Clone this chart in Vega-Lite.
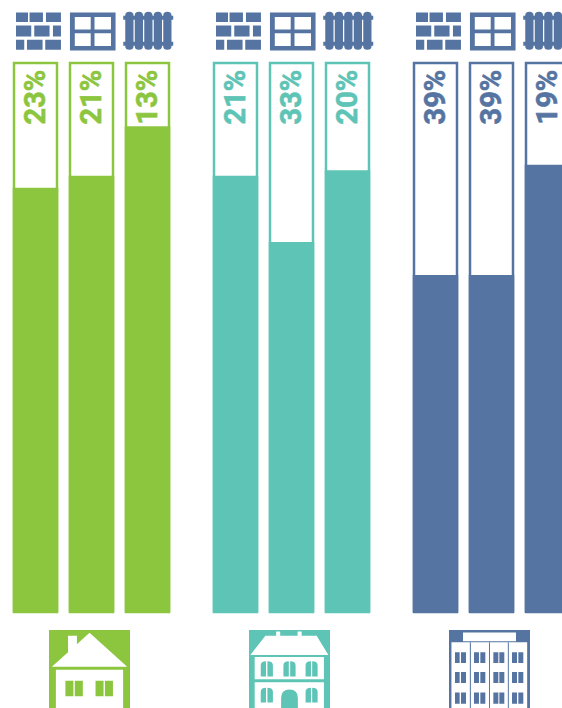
{
"$schema":"https://vega.github.io/schema/vega-lite/v6.json",
"background":"white",
"padding":{"left":7.5,"top":0,"right":0,"bottom":0},
"data":{"values":[
{"group":"maison","indicator":"murs","label":"23%","filled":77.3},
{"group":"maison","indicator":"fenêtres","label":"21%","filled":79.5},
{"group":"maison","indicator":"chauffage","label":"13%","filled":88.5},
{"group":"immeuble ancien","indicator":"murs","label":"21%","filled":79.5},
{"group":"immeuble ancien","indicator":"fenêtres","label":"33%","filled":67.4},
{"group":"immeuble ancien","indicator":"chauffage","label":"20%","filled":80.5},
{"group":"immeuble récent","indicator":"murs","label":"39%","filled":61.4},
{"group":"immeuble récent","indicator":"fenêtres","label":"39%","filled":61.4},
{"group":"immeuble récent","indicator":"chauffage","label":"19%","filled":81.5}
]},
"facet":{"column":{"field":"group","type":"nominal","sort":["maison","immeuble ancien","immeuble récent"],"header":null}},
"spacing":32,
"config":{"view":{"stroke":null}},
"spec":{
"width":168,"height":708,
"encoding":{
"x":{"field":"indicator","type":"nominal","sort":["murs","fenêtres","chauffage"],"axis":null,"scale":{"type":"band","paddingInner":0,"paddingOuter":0}},
"color":{"field":"group","type":"nominal","legend":null,"scale":{"domain":["maison","immeuble ancien","immeuble récent"],"range":["#8CC63F","#5EC4B6","#5574A2"]}}
},
"layer":[
{"mark":{"type":"bar","width":43,"fill":"white","strokeWidth":2.5},
 "encoding":{"y":{"datum":100,"type":"quantitative","axis":null,"scale":{"domain":[-17.5,111.5],"nice":false,"zero":false}},"y2":{"datum":0},"stroke":{"field":"group","type":"nominal","legend":null,"scale":{"domain":["maison","immeuble ancien","immeuble récent"],"range":["#8CC63F","#5EC4B6","#5574A2"]}},"color":{"value":null}}},
{"mark":{"type":"bar","width":45.5},
 "encoding":{"y":{"field":"filled","type":"quantitative"},"y2":{"datum":0}}},
{"mark":{"type":"text","angle":270,"align":"right","baseline":"middle","font":"Roboto","fontWeight":"bold","fontSize":29,"strokeWidth":0.6},
 "encoding":{"y":{"datum":98.8,"type":"quantitative"},"text":{"field":"label"},"stroke":{"field":"group","type":"nominal","legend":null,"scale":{"domain":["maison","immeuble ancien","immeuble récent"],"range":["#8CC63F","#5EC4B6","#5574A2"]}}}},
{"mark":{"type":"point","filled":true,"size":2500,"opacity":1,"fill":"#5574A2"},
 "encoding":{"y":{"datum":105.9,"type":"quantitative"},"color":{"value":"#5574A2"},
  "shape":{"field":"indicator","type":"nominal","legend":null,"scale":{"domain":["murs","fenêtres","chauffage"],"range":[
  "M-0.78 -0.732H-0.3V-0.348H-0.78ZM-0.238 -0.732H0.298V-0.348H-0.238ZM0.418 -0.732H1.018V-0.348H0.418ZM-0.78 -0.212H-0.17V0.228H-0.78ZM-0.05 -0.212H0.562V0.228H-0.05ZM0.698 -0.212H1.018V0.228H0.698ZM-0.78 0.36H-0.45V0.76H-0.78ZM-0.342 0.36H0.282V0.76H-0.342ZM0.39 0.36H1.018V0.76H0.39Z",
  "M-0.862 -0.732H0.962V-0.552H-0.862ZM-0.862 0.608H0.962V0.788H-0.862ZM-0.862 -0.732H-0.668V0.788H-0.862ZM0.78 -0.732H0.962V0.788H0.78ZM-0.862 -0.05H0.962V0.102H-0.862ZM-0.032 -0.732H0.12V0.788H-0.032Z",
  "M-0.89 -0.62Q-0.89 -0.76 -0.725 -0.76Q-0.56 -0.76 -0.56 -0.62L-0.56 0.62Q-0.56 0.76 -0.725 0.76Q-0.89 0.76 -0.89 0.62ZM-0.51 -0.62Q-0.51 -0.76 -0.345 -0.76Q-0.18 -0.76 -0.18 -0.62L-0.18 0.62Q-0.18 0.76 -0.345 0.76Q-0.51 0.76 -0.51 0.62ZM-0.13 -0.62Q-0.13 -0.76 0.035 -0.76Q0.2 -0.76 0.2 -0.62L0.2 0.62Q0.2 0.76 0.035 0.76Q-0.13 0.76 -0.13 0.62ZM0.25 -0.62Q0.25 -0.76 0.415 -0.76Q0.58 -0.76 0.58 -0.62L0.58 0.62Q0.58 0.76 0.415 0.76Q0.25 0.76 0.25 0.62ZM0.63 -0.62Q0.63 -0.76 0.795 -0.76Q0.96 -0.76 0.96 -0.62L0.96 0.62Q0.96 0.76 0.795 0.76Q0.63 0.76 0.63 0.62ZM-0.97 -0.6H1.03V-0.44H-0.97ZM-0.97 0.44H1.03V0.6H-0.97Z"
  ]}}}},
{"transform":[{"filter":"datum.indicator==='fenêtres'"}],
 "mark":{"type":"point","filled":true,"shape":"square","size":6561,"opacity":1,"xOffset":-2},
 "encoding":{"y":{"datum":-10.66,"type":"quantitative"}}},
{"transform":[{"filter":"datum.indicator==='fenêtres'"}],
 "mark":{"type":"point","filled":true,"size":6561,"opacity":1,"xOffset":-2,"fill":"white"},
 "encoding":{"y":{"datum":-10.66,"type":"quantitative"},"color":{"value":"white"},
  "shape":{"field":"group","type":"nominal","legend":null,"scale":{"domain":["maison","immeuble ancien","immeuble récent"],"range":[
  "M0 -0.93L0.93 -0.09L-0.93 -0.09L-0.53 -0.45L-0.53 -0.86L-0.31 -0.86L-0.31 -0.65ZM-0.83 -0.02H0.83V1H-0.83Z",
  "M-0.595 -0.86H-0.33V-0.96H-0.23V-0.86H0.2V-0.96H0.3V-0.86H0.67L0.96 -0.38H-0.967ZM-0.86 -0.33H0.85V0.22H-0.86ZM-0.86 0.29H0.85V1H-0.86Z",
  "M-0.654 -0.94H0.654V-0.72H-0.654ZM-0.94 -0.695H0.93V1H-0.94Z"
  ]}}}},
{"transform":[{"filter":"datum.indicator==='fenêtres'"}],
 "mark":{"type":"point","filled":true,"size":6561,"opacity":1,"xOffset":-2},
 "encoding":{"y":{"datum":-10.66,"type":"quantitative"},
  "shape":{"field":"group","type":"nominal","legend":null,"scale":{"domain":["maison","immeuble ancien","immeuble récent"],"range":[
  "M-0.595 0.256H-0.397V0.636H-0.595ZM-0.364 0.256H-0.165V0.636H-0.364ZM0.149 0.256H0.347V0.636H0.149ZM0.38 0.256H0.579V0.636H0.38Z",
  "M-0.71 0.15L-0.71 -0.13Q-0.71 -0.23 -0.58 -0.23L-0.58 0.15ZM-0.545 0.15L-0.545 -0.23Q-0.41 -0.23 -0.41 -0.13L-0.41 0.15ZM-0.15 0.15L-0.15 -0.13Q-0.15 -0.23 -0.017 -0.23L-0.017 0.15ZM0.017 0.15L0.017 -0.23Q0.15 -0.23 0.15 -0.13L0.15 0.15ZM0.397 0.15L0.397 -0.13Q0.397 -0.23 0.53 -0.23L0.53 0.15ZM0.56 0.15L0.56 -0.23Q0.694 -0.23 0.694 -0.13L0.694 0.15ZM-0.71 0.79L-0.71 0.53Q-0.71 0.43 -0.58 0.43L-0.58 0.79ZM-0.545 0.79L-0.545 0.43Q-0.41 0.43 -0.41 0.53L-0.41 0.79ZM0.397 0.79L0.397 0.53Q0.397 0.43 0.53 0.43L0.53 0.79ZM0.56 0.79L0.56 0.43Q0.694 0.43 0.694 0.53L0.694 0.79ZM-0.207 1L-0.207 0.68Q-0.207 0.47 0 0.47Q0.207 0.47 0.207 0.68L0.207 1Z",
  "M-0.485 -0.695H-0.46V1H-0.485ZM-0.012 -0.695H0.012V1H-0.012ZM0.453 -0.695H0.477V1H0.453ZM-0.852 -0.449H-0.737V-0.185H-0.852ZM-0.704 -0.449H-0.58V-0.185H-0.704ZM-0.383 -0.449H-0.26V-0.185H-0.383ZM-0.226 -0.449H-0.103V-0.185H-0.226ZM0.095 -0.449H0.218V-0.185H0.095ZM0.243 -0.449H0.366V-0.185H0.243ZM0.556 -0.449H0.679V-0.185H0.556ZM0.712 -0.449H0.835V-0.185H0.712ZM-0.852 0.037H-0.737V0.309H-0.852ZM-0.704 0.037H-0.58V0.309H-0.704ZM-0.383 0.037H-0.26V0.309H-0.383ZM-0.226 0.037H-0.103V0.309H-0.226ZM0.095 0.037H0.218V0.309H0.095ZM0.243 0.037H0.366V0.309H0.243ZM0.556 0.037H0.679V0.309H0.556ZM0.712 0.037H0.835V0.309H0.712ZM-0.852 0.547H-0.737V0.819H-0.852ZM-0.704 0.547H-0.58V0.819H-0.704ZM-0.383 0.547H-0.26V0.819H-0.383ZM-0.226 0.547H-0.103V0.819H-0.226ZM0.095 0.547H0.218V0.819H0.095ZM0.243 0.547H0.366V0.819H0.243ZM0.556 0.547H0.679V0.819H0.556ZM0.712 0.547H0.835V0.819H0.712Z"
  ]}}}}
],
"resolve":{"scale":{"shape":"independent"}}
}
}
